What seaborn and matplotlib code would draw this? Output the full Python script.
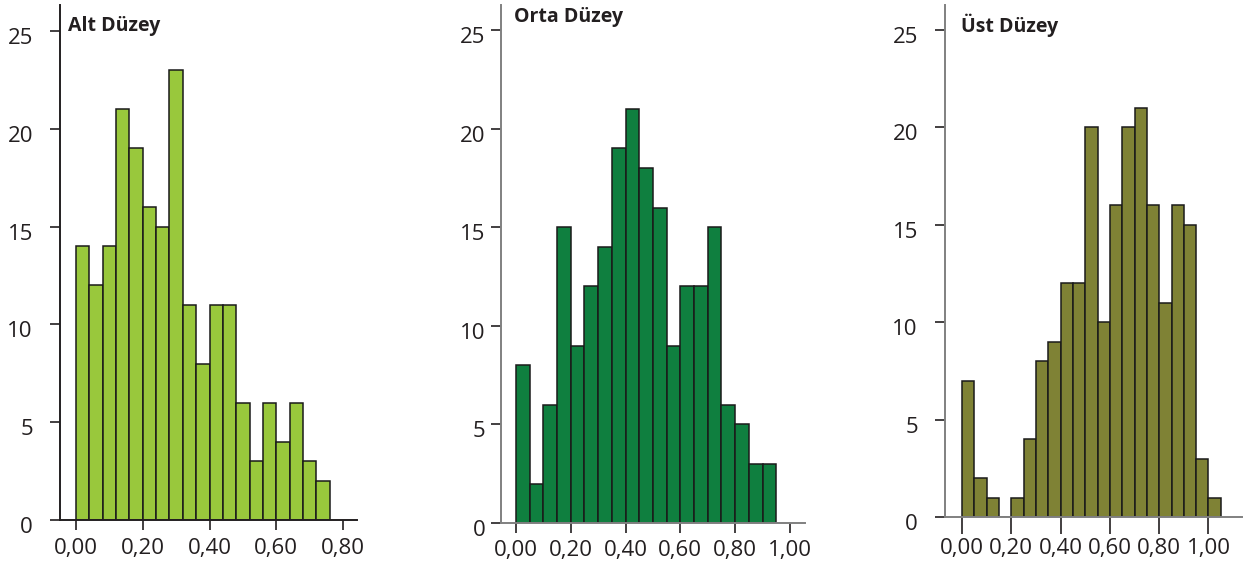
import numpy as np
import pandas as pd
import matplotlib.pyplot as plt
import matplotlib.transforms as mtransforms
import seaborn as sns

#%%
# bin counts (left edge of first bin is 0)
alt_counts = [14, 12, 14, 21, 19, 16, 15, 23, 11, 8, 11, 11, 6, 3, 6, 4, 6, 3, 2]
orta_counts = [8, 2, 6, 15, 9, 12, 14, 19, 21, 18, 16, 9, 12, 12, 15, 6, 5, 3, 3]
ust_counts = [7, 2, 1, 0, 1, 4, 8, 9, 12, 12, 20, 10, 16, 20, 21, 16, 11, 16, 15, 3, 1]

alt_binwidth = 0.04
orta_binwidth = 0.05
ust_binwidth = 0.05

titles = ['Alt Düzey', 'Orta Düzey', 'Üst Düzey']
alt_xticks = [0.0, 0.2, 0.4, 0.6, 0.8]
wide_xticks = [0.0, 0.2, 0.4, 0.6, 0.8, 1.0]
yticks = [0, 5, 10, 15, 20, 25]

#%%
sns.set_style('ticks')
plt.rcParams['font.family'] = ['Open Sans', 'DejaVu Sans']

W, H = 1243, 565
fig = plt.figure(figsize=(W / 100, H / 100), dpi=100)

dark = '#231f20'

# per-panel layout, all in pixels of the reference
panels = [
    dict(counts=alt_counts, bw=alt_binwidth, xticks=alt_xticks, color='#99c83c',
         box=(60, 357, 5, 520), xlim=(-0.048, 0.842), ylim=26.33, spine=dark,
         ypad=12, xpad=6, xlen=7, title_xy=(68, 31)),
    dict(counts=orta_counts, bw=orta_binwidth, xticks=wide_xticks, color='#0f7f3f',
         box=(501, 805, 5, 523), xlim=(-0.0547, 1.055), ylim=26.27, spine='#808080',
         ypad=3.5, xpad=5.5, xlen=7, title_xy=(514, 22)),
    dict(counts=ust_counts, bw=ust_binwidth, xticks=wide_xticks, color='#7f8235',
         box=(945, 1242, 5, 517), xlim=(-0.069, 1.136), ylim=26.28, spine='#808080',
         ypad=12, xpad=3, xlen=12, title_xy=(961, 32)),
]

offset = mtransforms.ScaledTranslation(0, -5 / 100, fig.dpi_scale_trans)

for p, title in zip(panels, titles):
    l, r, t, b = p['box']
    ax = fig.add_axes([l / W, 1 - b / H, (r - l) / W, (b - t) / H])

    n = len(p['counts'])
    edges = p['bw'] * np.arange(n + 1)
    df = pd.DataFrame({'x': edges[:-1] + p['bw'] / 2, 'n': p['counts']})
    sns.histplot(data=df, x='x', weights='n', bins=list(edges), ax=ax,
                 color=p['color'], edgecolor='#1a1a1a', linewidth=1.1, alpha=1)

    ax.set_xlim(*p['xlim'])
    ax.set_ylim(0, p['ylim'])
    ax.set_xlabel('')
    ax.set_ylabel('')

    ax.set_xticks(p['xticks'])
    ax.set_xticklabels([f'{v:.2f}'.replace('.', ',') for v in p['xticks']])
    ax.set_yticks(yticks)
    ax.set_yticklabels([str(v) for v in yticks])

    for side in ['top', 'right']:
        ax.spines[side].set_visible(False)
    for side in ['left', 'bottom']:
        ax.spines[side].set_color(p['spine'])
        ax.spines[side].set_linewidth(1.4)

    ax.tick_params(axis='y', direction='out', length=7.5, width=1.2, color=dark,
                   labelsize=16, labelcolor=dark, pad=p['ypad'])
    ax.tick_params(axis='x', direction='out', length=p['xlen'], width=1.2, color=dark,
                   labelsize=16, labelcolor=dark, pad=p['xpad'])

    for lab in ax.get_yticklabels():
        lab.set_transform(lab.get_transform() + offset)

    tx, ty = p['title_xy']
    fig.text(tx / W, 1 - ty / H, title, fontsize=14, fontweight='bold',
             color=dark, ha='left', va='baseline')

fig.savefig('out.png', dpi=100)
